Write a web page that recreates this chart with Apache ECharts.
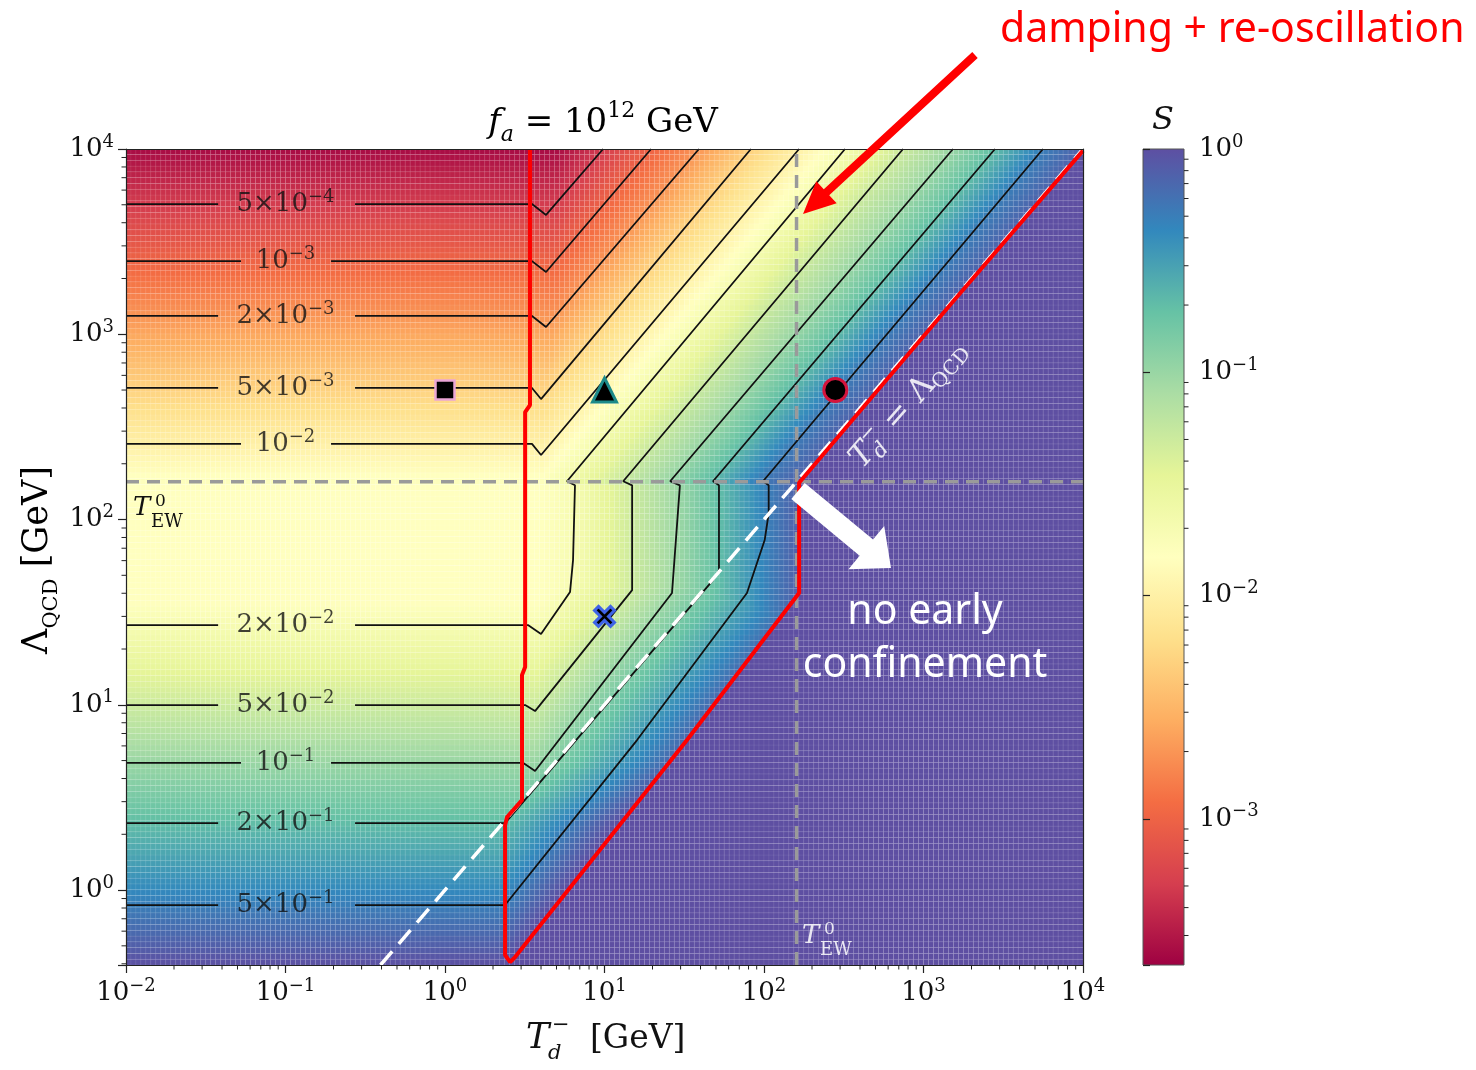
<!DOCTYPE html>
<html>
<head>
<meta charset="utf-8">
<script src="https://cdn.jsdelivr.net/npm/echarts@6/dist/echarts.min.js"></script>
<style>
  html, body { margin: 0; padding: 0; background: #fff; }
  #chart { width: 1476px; height: 1070px; }
</style>
</head>
<body>
<div id="chart"></div>
<script>
// axis ranges (GeV) and colour range of S
const xRange = [1e-2, 1e4];
const yRange = [0.394, 1e4];
const sRange = [2.213e-4, 1];

// S contour levels, as labelled on the plot
const levels = [5e-4, 1e-3, 2e-3, 5e-3, 1e-2, 2e-2, 5e-2, 1e-1, 2e-1, 5e-1];
const levelMant = ['5', '', '2', '5', '', '2', '5', '', '2', '5'];
const levelExp = ['−4', '−3', '−3', '−3', '−2', '−2', '−2', '−1', '−1', '−1'];
// Λ of each contour on its flat part (small T_d)
const flatLambda = [5045, 2483, 1256, 513, 256, 26.9, 9.97, 4.86, 2.30, 0.83];
// T_d where each diagonal contour reaches the top (Λ = 10^4)
const topTd = [9.8, 19.6, 39.1, 82.8, 166, 322, 744, 1531, 2806, 5610];
// lower five contours: T_d where they leave the flat part
const bendTd = [4.00, 3.67, 3.67, 2.38, 2.38];
// below T_EW the contours turn vertical: T_d and S there
const vertTd = [3.94, 6.53, 14.9, 29.7, 52.2, 107, 168];
const vertS = [0.015, 2e-2, 5e-2, 1e-1, 2e-1, 5e-1, 0.8];
const edgeS = 0.75;   // S just left of T_d = Λ
const lowSlope = 1.1; // slope of the lower diagonal contours
const tEW = 160;

// contour paths [T_d, Λ], from the right end of the label gap
const c5e4 = [[0.273, 5045], [3.51, 5045], [4.30, 4406], [9.8, 1e4]];
const c1e3 = [[0.193, 2483], [3.51, 2483], [4.30, 2168], [19.6, 1e4]];
const c2e3 = [[0.273, 1256], [3.51, 1256], [4.30, 1094], [39.1, 1e4]];
const c5e3 = [[0.273, 513], [3.51, 513], [4.00, 447], [82.8, 1e4]];
const c1e2 = [[0.193, 256], [3.51, 256], [4.00, 223], [166, 1e4]];
const c2e2 = [[0.273, 26.9], [3.33, 26.9], [4.00, 24.1], [6.08, 40.6], [6.35, 60.4], [6.53, 153], [5.82, 161], [322, 1e4]];
const c5e2 = [[0.273, 9.97], [3.18, 9.97], [3.67, 9.25], [14.9, 41.6], [14.9, 153], [13.1, 161], [744, 1e4]];
const c1e1 = [[0.193, 4.86], [3.08, 4.86], [3.67, 4.39], [26.5, 40.1], [29.7, 153], [25.8, 161], [1531, 1e4]];
const c2e1 = [[0.273, 2.30], [2.38, 2.30], [47.9, 47.1], [52.2, 53.3], [52.2, 153], [47.9, 161], [2806, 1e4]];
const c5e1 = [[0.273, 0.83], [2.38, 0.83], [16.0, 6.45], [78.2, 40.1], [101, 77.5], [107, 108], [107, 153], [98.6, 161], [5610, 1e4]];
const contourPaths = [c5e4, c1e3, c2e3, c5e3, c1e2, c2e2, c5e2, c1e1, c2e1, c5e1];
const labelTd = 0.1;

// red boundary, left branch (top to bottom) then right branch (bottom to top right)
const redLeft = [[3.41, 1e4], [3.41, 415], [3.18, 380], [3.18, 16.0], [3.04, 14.5], [3.04, 3.06], [2.45, 2.48], [2.38, 2.24], [2.38, 0.446]];
const redRight = [[2.56, 0.408], [2.75, 0.435], [32.9, 6.45], [166, 40.1], [166, 158], [1560, 1531], [1e4, 9800]];

// benchmark points
const markSquare = [[1, 500]];
const markTriangle = [[10, 500]];
const markCircle = [[280, 500]];
const markCross = [[10, 30]];

const spectral = ['#9e0142', '#d53e4f', '#f46d43', '#fdae61', '#fee08b', '#ffffbf',
                  '#e6f598', '#abdda4', '#66c2a5', '#3288bd', '#5e4fa2'];
const serif = "'DejaVu Serif', serif";
const sans = "'Noto Sans', 'Liberation Sans', sans-serif";
const lg = Math.log10;

function interp(xs, ys, x, clamp) {
  const n = xs.length;
  let i = 0;
  if (x <= xs[0]) { if (clamp) return ys[0]; }
  else if (x >= xs[n - 1]) { if (clamp) return ys[n - 1]; i = n - 2; }
  else { while (x > xs[i + 1]) i++; }
  const t = (x - xs[i]) / (xs[i + 1] - xs[i]);
  return ys[i] + t * (ys[i + 1] - ys[i]);
}

const L = levels.map(lg);
const uFlatHi = flatLambda.slice(0, 5).map(lg).reverse();
const LHi = L.slice(0, 5).reverse();
const cDiag = topTd.map(t => lg(t) - 4).concat([0]);
const LDiag = L.concat([lg(edgeS)]);
const uFlatLo = flatLambda.slice(5).map(lg).reverse();
const LLo = L.slice(5).reverse();
const vBendLo = bendTd.map(lg).reverse();
const vVert = vertTd.map(lg);
const LVert = vertS.map(lg);
const uRed = redRight.map(p => lg(p[1]));
const vRed = redRight.map(p => lg(p[0]));

// log10 S at (u = log Λ, v = log T_d), built from the contour positions above
function logS(u, v) {
  if (v > interp(uRed, vRed, u, true)) return 0;
  if (u >= lg(tEW)) {
    if (v > u) return 0;
    const a = interp(uFlatHi, LHi, u);
    const b = interp(cDiag, LDiag, v - u);
    return Math.min(0, Math.max(a, b));
  }
  const vb = interp(uFlatLo, vBendLo, u, true);
  const ue = u - Math.max(0, v - vb) * lowSlope;
  const a = interp(uFlatLo, LLo, ue);
  const b = interp(vVert, LVert, v, true);
  return Math.min(0, Math.max(a, b));
}

function hex(c) { return [1, 3, 5].map(i => parseInt(c.slice(i, i + 2), 16)); }
const spRgb = spectral.map(hex);
function cmap(ls) {
  let t = (ls - lg(sRange[0])) / (lg(sRange[1]) - lg(sRange[0]));
  t = Math.max(0, Math.min(1, t)) * 10;
  const i = Math.min(9, Math.floor(t)), f = t - i;
  const a = spRgb[i], b = spRgb[i + 1];
  return 'rgb(' + [0, 1, 2].map(k => Math.round(a[k] + f * (b[k] - a[k]))).join(',') + ')';
}

// grid of cells for the colour map
const step = 1 / 32;
const cells = [];
for (let v = lg(xRange[0]); v < lg(xRange[1]) - 1e-9; v += step) {
  for (let u = lg(yRange[0]); u < lg(yRange[1]) - 1e-9; u += step) {
    const u1 = Math.min(u + step, lg(yRange[1]));
    cells.push([10 ** v, 10 ** (v + step), 10 ** u, 10 ** u1, logS((u + u1) / 2, v + step / 2)]);
  }
}

// minor ticks 2..9 per decade
const minorX = [], minorY = [], minorS = [];
for (let k = -2; k <= 3; k++) for (let m = 2; m <= 9; m++) minorX.push([m * 10 ** k, yRange[0]]);
for (let k = -1; k <= 3; k++) for (let m = 2; m <= 9; m++) {
  const val = m * 10 ** k;
  if (val > yRange[0]) minorY.push([xRange[0], val]);
}
for (let k = -4; k <= -1; k++) for (let m = 2; m <= 9; m++) {
  const val = m * 10 ** k;
  if (val > sRange[0]) minorS.push([1, val]);
}

function decadeLabel(val) {
  const e = Math.round(lg(val));
  if (Math.abs(lg(val) - e) > 1e-6) return '';
  return '{b|10}{s|' + (e < 0 ? '−' + (-e) : e) + '}';
}
const richNum = {
  b: { fontFamily: serif, fontSize: 26, lineHeight: 32, color: '#111' },
  s: { fontFamily: serif, fontSize: 18, lineHeight: 18, verticalAlign: 'top', color: '#111' }
};

const chart = echarts.init(document.getElementById('chart'), null, { renderer: 'canvas' });

const series = [];
// colour map
series.push({
  type: 'custom', xAxisIndex: 0, yAxisIndex: 0, z: 1, silent: true, clip: true,
  progressive: 0, animation: false,
  dimensions: ['t0', 't1', 'l0', 'l1', 's'],
  encode: { x: [0, 1], y: [2, 3] },
  data: cells,
  renderItem: (params, api) => {
    const p0 = api.coord([api.value(0), api.value(3)]);
    const p1 = api.coord([api.value(1), api.value(2)]);
    return {
      type: 'rect',
      shape: { x: p0[0], y: p0[1], width: p1[0] - p0[0], height: p1[1] - p0[1] },
      style: { fill: cmap(api.value(4)), stroke: 'rgba(255,255,255,0.07)', lineWidth: 0.8 }
    };
  }
});

// contour lines, broken around their labels
const lineBase = { type: 'line', symbol: 'none', silent: true, z: 3, animation: false };
contourPaths.forEach((path, i) => {
  const gapLeft = levelMant[i] ? 0.0378 : 0.0526;
  series.push(Object.assign({}, lineBase, {
    data: [[xRange[0], flatLambda[i]], [gapLeft, flatLambda[i]]],
    lineStyle: { color: '#111', width: 1.8 }
  }));
  series.push(Object.assign({}, lineBase, {
    data: path, lineStyle: { color: '#111', width: 1.8 }
  }));
});
// T_EW guides
series.push(Object.assign({}, lineBase, {
  data: [[xRange[0], tEW], [xRange[1], tEW]],
  lineStyle: { color: '#9a9a9a', width: 3.5, type: [13, 8] }
}));
series.push(Object.assign({}, lineBase, {
  data: [[tEW, yRange[0]], [tEW, yRange[1]]],
  lineStyle: { color: '#9a9a9a', width: 3.5, type: [13, 8] }
}));
// T_d = Λ
series.push(Object.assign({}, lineBase, {
  data: [[yRange[0], yRange[0]], [yRange[1], yRange[1]]],
  lineStyle: { color: '#ffffff', width: 3.5, type: [18, 10] }
}));
// red boundary
series.push(Object.assign({}, lineBase, {
  z: 4, data: redLeft.concat(redRight),
  lineStyle: { color: '#ff0000', width: 4 }
}));
// benchmark markers
const markerBase = { type: 'scatter', z: 6, silent: true, animation: false };
series.push(Object.assign({}, markerBase, {
  data: markSquare, symbol: 'rect', symbolSize: 19,
  itemStyle: { color: '#000', opacity: 1, borderColor: '#eba6d6', borderWidth: 2.5 }
}));
series.push(Object.assign({}, markerBase, {
  data: markTriangle, symbol: 'triangle', symbolSize: 24,
  itemStyle: { color: '#000', opacity: 1, borderColor: '#1d8a8a', borderWidth: 3 }
}));
series.push(Object.assign({}, markerBase, {
  data: markCircle, symbol: 'circle', symbolSize: 23,
  itemStyle: { color: '#000', opacity: 1, borderColor: '#d4143c', borderWidth: 3 }
}));
series.push(Object.assign({}, markerBase, {
  data: markCross, symbolSize: 20,
  symbol: 'path://M2,0 L5,3 L8,0 L10,2 L7,5 L10,8 L8,10 L5,7 L2,10 L0,8 L3,5 L0,2 Z',
  itemStyle: { color: '#000', opacity: 1, borderColor: '#3f63e6', borderWidth: 3 }
}));
// contour labels
series.push({
  type: 'scatter', z: 5, silent: true, animation: false,
  data: flatLambda.map(l => [labelTd, l]),
  symbolSize: 1, itemStyle: { color: 'rgba(0,0,0,0)' },
  label: {
    show: true, position: 'inside',
    formatter: p => (levelMant[p.dataIndex] ? '{b|' + levelMant[p.dataIndex] + '×10}' : '{b|10}') +
      '{s|' + levelExp[p.dataIndex] + '}',
    rich: richNum
  }
});
// minor ticks
function minorTicks(data, xi, yi, dx, dy) {
  return {
    type: 'custom', xAxisIndex: xi, yAxisIndex: yi, z: 10, silent: true, clip: false,
    progressive: 0, animation: false,
    data: data,
    renderItem: (params, api) => {
      const p = api.coord([api.value(0), api.value(1)]);
      return { type: 'line', shape: { x1: p[0], y1: p[1], x2: p[0] + dx, y2: p[1] + dy },
               style: { stroke: '#222', lineWidth: 1 } };
    }
  };
}
series.push(minorTicks(minorX, 0, 0, 0, 4.5));
series.push(minorTicks(minorY, 0, 0, -4.5, 0));
series.push(minorTicks(minorS, 2, 2, 4.5, 0));
// colour bar
series.push({
  type: 'custom', xAxisIndex: 2, yAxisIndex: 2, z: 2, silent: true, clip: false, animation: false,
  data: [[0, sRange[0], 1, sRange[1]]],
  renderItem: (params, api) => {
    const p0 = api.coord([api.value(0), api.value(3)]);
    const p1 = api.coord([api.value(2), api.value(1)]);
    return {
      type: 'rect',
      shape: { x: p0[0], y: p0[1], width: p1[0] - p0[0], height: p1[1] - p0[1] },
      style: {
        fill: { type: 'linear', x: 0, y: 1, x2: 0, y2: 0,
                colorStops: spectral.map((c, i) => ({ offset: i / 10, color: c })) },
        stroke: '#555', lineWidth: 1
      }
    };
  }
});

const frameLine = { show: true, lineStyle: { color: '#222', width: 1.2 } };
const logAxis = (extra) => Object.assign({
  type: 'log', logBase: 10, z: 10, splitLine: { show: false },
  axisLine: frameLine,
  axisTick: { show: true, length: 8, lineStyle: { color: '#222', width: 1.2 } },
  axisLabel: { formatter: decadeLabel, rich: richNum }
}, extra);

// text helpers for the math labels
function tx(text, x, y, size, opt) {
  opt = opt || {};
  return {
    type: 'text', x: x, y: y, z: 100, silent: true,
    style: { text: text, fontFamily: opt.family || serif, fontSize: size,
             fontStyle: opt.italic ? 'italic' : 'normal', fill: opt.color || '#111',
             align: opt.align || 'left', verticalAlign: 'middle' }
  };
}
function arrowPoints(tail, tip, shaftHalf, headHalf, headLen) {
  const dx = tip[0] - tail[0], dy = tip[1] - tail[1], len = Math.hypot(dx, dy);
  const ux = dx / len, uy = dy / len, nx = -uy, ny = ux;
  const bx = tip[0] - ux * headLen, by = tip[1] - uy * headLen;
  return [
    [tail[0] + nx * shaftHalf, tail[1] + ny * shaftHalf],
    [bx + nx * shaftHalf, by + ny * shaftHalf],
    [bx + nx * headHalf, by + ny * headHalf],
    tip,
    [bx - nx * headHalf, by - ny * headHalf],
    [bx - nx * shaftHalf, by - ny * shaftHalf],
    [tail[0] - nx * shaftHalf, tail[1] - ny * shaftHalf]
  ];
}
const light = 'rgba(255,255,255,0.85)';

chart.setOption({
  animation: false,
  grid: [
    { left: 126, top: 149, width: 957, height: 816, outerBoundsMode: 'none' },
    { left: 1143, top: 149, width: 41, height: 816, outerBoundsMode: 'none' }
  ],
  xAxis: [
    logAxis({ gridIndex: 0, min: xRange[0], max: xRange[1], position: 'bottom',
              axisLabel: { formatter: decadeLabel, rich: richNum, margin: 12 } }),
    logAxis({ gridIndex: 0, min: xRange[0], max: xRange[1], position: 'top',
              axisTick: { show: false }, axisLabel: { show: false } }),
    { gridIndex: 1, type: 'value', min: 0, max: 1, show: false }
  ],
  yAxis: [
    logAxis({ gridIndex: 0, min: yRange[0], max: yRange[1], position: 'left',
              axisLabel: { formatter: decadeLabel, rich: richNum, margin: 12 } }),
    logAxis({ gridIndex: 0, min: yRange[0], max: yRange[1], position: 'right',
              axisTick: { show: false }, axisLabel: { show: false } }),
    logAxis({ gridIndex: 1, min: sRange[0], max: sRange[1], position: 'right',
              axisLine: { show: false },
              axisTick: { show: true, length: 7, lineStyle: { color: '#222', width: 1.2 } },
              axisLabel: { formatter: decadeLabel, rich: richNum, margin: 15 } })
  ],
  series: series,
  graphic: [
    // title
    { type: 'text', x: 603, y: 123, z: 100, silent: true,
      style: {
        text: '{i|f}{sub|a}{m| = 10}{sup|12}{m| GeV}', align: 'center', verticalAlign: 'middle',
        rich: {
          m: { fontFamily: serif, fontSize: 34, lineHeight: 46, color: '#111' },
          i: { fontFamily: serif, fontSize: 34, fontStyle: 'italic', lineHeight: 46, color: '#111' },
          sub: { fontFamily: serif, fontSize: 22, fontStyle: 'italic', lineHeight: 23, verticalAlign: 'bottom', color: '#111' },
          sup: { fontFamily: serif, fontSize: 22, lineHeight: 23, verticalAlign: 'top', color: '#111' }
        }
      } },
    // y axis name
    { type: 'text', x: 38, y: 560, rotation: Math.PI / 2, z: 100, silent: true,
      style: {
        text: '{m|Λ}{sub|QCD}{m| [GeV]}', align: 'center', verticalAlign: 'middle',
        rich: {
          m: { fontFamily: serif, fontSize: 35, lineHeight: 48, color: '#111' },
          sub: { fontFamily: serif, fontSize: 21, lineHeight: 22, verticalAlign: 'bottom', color: '#111' }
        }
      } },
    // x axis name
    { type: 'group', x: 526, y: 1039, z: 100, children: [
      tx('T', 0, 0, 35, { italic: true }),
      tx('−', 26, -13, 21),
      tx('d', 22, 15, 21, { italic: true }),
      tx('[GeV]', 64, 0, 33)
    ] },
    // colour bar title
    tx('S', 1163, 121, 32, { italic: true, align: 'center' }),
    // T_EW labels
    { type: 'group', x: 133, y: 508, z: 100, children: [
      tx('T', 0, 0, 26, { italic: true }),
      tx('0', 22, -6, 17),
      tx('EW', 18, 14, 18)
    ] },
    { type: 'group', x: 802, y: 936, z: 100, children: [
      tx('T', 0, 0, 26, { italic: true, color: light }),
      tx('0', 22, -6, 17, { color: light }),
      tx('EW', 18, 14, 18, { color: light })
    ] },
    // T_d = Λ label
    { type: 'group', x: 856, y: 464, rotation: 48.6 * Math.PI / 180, z: 100, children: [
      tx('T', 0, 0, 32, { italic: true, color: light }),
      tx('−', 22, -11, 21, { color: light }),
      tx('d', 20, 10, 21, { italic: true, color: light }),
      tx('=', 50, 0, 32, { color: light }),
      tx('Λ', 88, 0, 32, { color: light }),
      tx('QCD', 111, 9, 20, { color: light })
    ] },
    // annotations
    { type: 'polygon', z: 100, silent: true,
      shape: { points: arrowPoints([975, 55], [803, 214], 4, 15, 32) }, style: { fill: '#ff0000' } },
    { type: 'polygon', z: 100, silent: true,
      shape: { points: arrowPoints([798, 491], [891, 568], 10.5, 28, 32) }, style: { fill: '#ffffff' } },
    tx('damping + re-oscillation', 1000, 30, 41, { family: sans, color: '#ff0000' }),
    tx('no early', 925, 612, 41, { family: sans, color: '#ffffff', align: 'center' }),
    tx('confinement', 925, 665, 41, { family: sans, color: '#ffffff', align: 'center' })
  ]
});
</script>
</body>
</html>
